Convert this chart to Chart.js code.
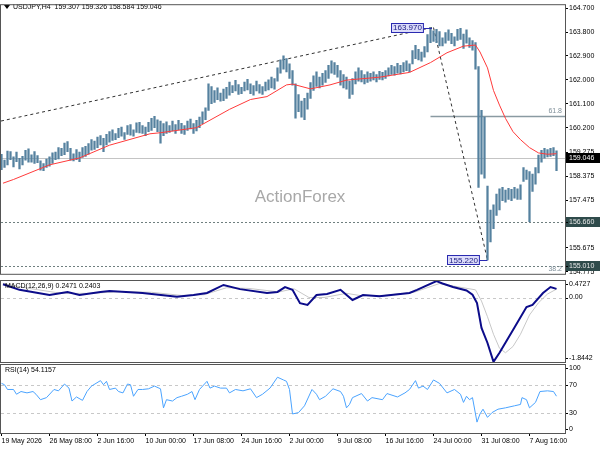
<!DOCTYPE html>
<html>
<head>
<meta charset="utf-8">
<title>USDJPY H4</title>
<script src="https://cdn.jsdelivr.net/npm/chart.js@4.4.1/dist/chart.umd.min.js"></script>
<style>
  html, body { margin: 0; padding: 0; background: #fff; }
  #wrap { position: relative; width: 600px; height: 450px; overflow: hidden; }
  canvas { position: absolute; left: 0; }
</style>
</head>
<body>
<div id="wrap">
  <canvas id="mainChart" width="600" height="279" style="top:0"></canvas>
  <canvas id="macdChart" width="600" height="85" style="top:279px"></canvas>
  <canvas id="rsiChart" width="600" height="86" style="top:364px"></canvas>
</div>
<script>
// ---- data ----
const symbolTitle = "USDJPY,H4";
const lastOHLC = ["159.307", "159.326", "158.584", "159.046"];
const macdTitle = "MACD(12,26,9) 0.2471 0.2403";
const rsiTitle = "RSI(14) 54.1157";

// one drawn bar every 2 H4 slots
const barStep = 2;
const barHigh = [
  159.20,158.98,159.32,159.30,159.10,159.28,159.05,159.12,159.35,159.40,159.18,159.30,159.15,
  158.95,158.85,159.02,159.10,
  159.25,159.28,159.45,159.42,159.62,159.68,
  159.42,159.22,159.38,159.28,159.45,159.50,
  159.60,159.75,159.70,159.85,159.90,159.80,159.95,160.05,
  160.12,159.98,160.18,160.22,160.02,160.28,160.32,160.12,160.38,160.40,160.28,160.22,160.40,
  160.55,160.63,160.50,160.45,160.35,
  160.42,160.28,160.45,160.32,160.48,160.36,160.28,160.45,160.52,160.35,160.48,
  160.60,160.80,160.95,
  161.85,161.75,
  161.60,161.70,161.50,161.65,161.72,
  161.92,161.78,161.98,161.82,161.72,161.92,162.02,161.85,161.78,161.95,161.82,161.75,161.92,
  162.00,162.10,162.05,
  162.45,162.75,162.90,162.80,
  162.60,162.35,
  161.85,
  161.45,161.20,161.30,
  161.50,161.90,162.15,162.30,162.10,162.25,
  162.35,162.55,
  162.72,162.65,162.55,
  162.35,162.20,162.10,
  161.95,162.05,
  162.30,162.45,162.35,162.20,162.30,
  162.25,162.30,162.20,162.32,162.28,162.35,
  162.45,162.55,162.50,162.62,162.55,162.65,162.72,162.60,
  163.10,163.30,163.15,163.05,163.25,
  163.70,163.97,163.85,163.90,
  163.82,163.58,163.78,163.88,163.75,163.62,163.90,163.94,163.72,163.88,163.58,163.48,
  163.40,
  162.50,
  160.85,
  160.60,
  158.00,
  157.10,157.30,157.70,157.90,
  157.95,157.85,157.92,157.88,157.95,157.90,158.05,
  158.70,158.60,158.55,158.45,158.70,
  159.17,159.35,159.42,159.38,159.42,159.45,159.326
];
const barLow = [
  158.62,158.70,158.80,159.00,158.72,158.92,158.65,158.80,158.98,158.90,158.90,158.85,158.88,
  158.60,158.58,158.70,158.75,
  158.85,159.00,159.02,159.15,159.18,159.30,
  158.98,158.95,159.00,158.92,159.08,159.12,
  159.20,159.35,159.38,159.45,159.55,159.30,159.55,159.65,
  159.72,159.75,159.82,159.88,159.76,159.95,159.92,159.88,160.02,160.00,159.98,159.90,160.05,
  160.10,160.20,160.05,159.62,159.90,
  159.98,160.02,160.08,159.98,160.12,159.98,159.95,160.10,160.15,159.98,160.08,
  160.20,160.35,160.50,
  160.85,161.10,
  161.15,161.25,161.20,161.22,161.30,
  161.42,161.52,161.58,161.45,161.48,161.58,161.62,161.48,161.42,161.58,161.50,161.45,161.58,
  161.62,161.70,161.65,
  161.95,162.25,162.40,162.30,
  162.05,161.80,
  160.56,
  160.80,160.60,160.50,
  160.90,161.30,161.60,161.75,161.70,161.80,
  161.90,162.05,
  162.25,162.20,162.10,
  161.80,161.70,161.65,
  161.30,161.45,
  161.85,161.95,161.92,161.85,161.90,
  161.95,162.00,161.92,162.02,162.00,162.05,
  162.15,162.20,162.18,162.25,162.22,162.30,162.35,162.30,
  162.60,162.80,162.75,162.70,162.85,
  163.05,163.40,163.45,163.40,
  163.28,163.28,163.38,163.48,163.36,163.28,163.48,163.52,163.18,163.38,163.22,163.12,
  162.40,
  157.95,
  158.45,
  158.30,
  155.22,
  155.90,156.40,156.90,157.10,
  157.45,157.40,157.50,157.45,157.55,157.50,157.50,
  158.18,158.25,156.66,157.80,158.07,
  158.50,158.90,159.05,159.10,159.12,159.15,158.584
];

// moving average (red)
const maIndex = [1,8,32,52,72,99,106,130,152,166,177,190,194,206,219,230,252,272,286,297,308,316,319,324,328,332,336,341,346,352,358,364,370];
const maValue = [158.11,158.25,158.80,159.06,159.54,159.97,160.01,160.20,160.89,161.26,161.37,161.81,161.84,161.66,161.81,161.99,162.10,162.28,162.65,163.02,163.27,163.31,163.05,162.45,161.60,161.05,160.55,160.05,159.75,159.45,159.25,159.20,159.22];

// trend lines
const trendUpIndex = [-0.333, 287];
const trendUpPrice = [160.45, 163.97];
const trendDownIndex = [288, 324];
const trendDownPrice = [163.97, 155.22];

// MACD
const macdIndex = [1,12,32,44,52,66,72,94,117,128,137,148,159,177,184,189,194,199,204,210,217,226,234,241,252,272,277,290,294,301,310,314,317,320,324,328,332,341,350,354,361,366,370];
const macdMain = [0.38,0.22,0.07,0.16,0.07,0.16,0.19,0.13,0.02,0.07,0.13,0.36,0.24,0.13,0.16,0.30,0.22,-0.16,-0.21,0.07,0.10,0.22,-0.07,0.07,0.04,0.13,0.22,0.47,0.40,0.30,0.20,0.08,-0.16,-0.87,-1.30,-1.84,-1.58,-0.93,-0.27,-0.21,0.13,0.30,0.247];
const signalIndex = [1,20,40,60,80,100,120,135,150,165,185,195,205,215,230,240,255,275,292,305,316,320,324,328,332,336,341,346,352,358,364,370];
const signalValue = [0.40,0.25,0.12,0.12,0.17,0.15,0.06,0.08,0.28,0.26,0.16,0.25,0.00,0.00,0.12,0.05,0.06,0.15,0.40,0.30,0.22,-0.10,-0.55,-1.05,-1.45,-1.58,-1.40,-1.05,-0.50,-0.15,0.10,0.24];

// RSI
const rsiIndex = [0,2,4,8,10,13,17,21,23,26,30,35,38,42,45,47,50,54,57,60,66,68,70,72,76,78,81,84,86,88,91,94,98,102,106,108,110,114,117,120,124,127,129,132,137,139,142,146,150,152,156,161,166,170,174,179,184,188,190,192,194,198,202,207,210,212,216,221,226,228,230,232,234,240,244,247,254,257,264,269,272,276,278,281,284,288,292,297,302,306,308,310,312,314,317,319,321,324,327,331,336,342,346,347,350,352,356,359,364,368,370];
const rsiValue = [73,71,64,64,57,61,59,61,57,49,52,64,62,72,66,47,53,48,61,69,77,71,76,64,66,61,59,72,71,54,64,64,65,69,65,37,49,47,52,54,57,61,49,64,76,66,69,66,66,59,64,62,65,52,57,66,82,78,76,64,28,30,40,64,57,49,54,65,61,54,37,42,52,58,47,52,49,58,53,59,64,77,66,69,64,78,73,59,64,57,45,54,49,52,16,28,35,23,30,35,37,40,42,52,49,37,45,61,62,61,54.1];

// ticks and levels
const priceTicks = [164.700,163.800,162.900,162.000,161.100,160.200,159.275,158.375,157.475,156.575,155.675,154.775];
const timeTickIndex = [0,32,64,96,128,160,192,224,256,288,320,352];
const timeTickLabels = ["19 May 2026","26 May 08:00","2 Jun 16:00","10 Jun 00:00","17 Jun 08:00","24 Jun 16:00","2 Jul 00:00","9 Jul 08:00","16 Jul 16:00","24 Jul 00:00","31 Jul 08:00","7 Aug 16:00"];
const macdTicks = [0.4727, 0, -1.8442];
const macdTickLabels = ["0.4727", "0.00", "-1.8442"];
const rsiTicks = [100, 70, 30, 0];
const rsiLevels = [70, 30];
const bidPrice = 159.046;
const supportLevels = [156.660, 155.010];
const fibLevel = { price: 160.63, fromIndex: 286, label: "61.8" };
const fibLow = { price: 155.010, label: "38.2" };
const highMark = { index: 287, price: 163.970, text: "163.970" };
const lowMark = { index: 324, price: 155.220, text: "155.220" };

// ---- layout ----
const xMin = -0.333, xMax = 375.667;
const priceMin = 154.70, priceMax = 164.81;
const FONT = "'Liberation Sans', Arial, sans-serif";
Chart.defaults.font.family = FONT;
Chart.defaults.font.size = 7;
Chart.defaults.animation = false;
Chart.defaults.plugins.legend.display = false;
Chart.defaults.plugins.tooltip.enabled = false;

const frame = {
  id: 'frame',
  afterDraw(chart) {
    const { ctx, chartArea: a } = chart;
    ctx.save();
    ctx.strokeStyle = '#555';
    ctx.lineWidth = 1;
    ctx.strokeRect(a.left - 0.5, a.top - 0.5, a.right - a.left + 1, a.bottom - a.top + 1);
    ctx.restore();
  }
};

function hLine(ctx, a, y, color, dash, width, x0) {
  ctx.save();
  ctx.strokeStyle = color;
  ctx.lineWidth = width || 1;
  ctx.setLineDash(dash || []);
  ctx.beginPath();
  const yy = Math.round(y) + 0.5;
  ctx.moveTo(x0 !== undefined ? x0 : a.left, yy);
  ctx.lineTo(a.right, yy);
  ctx.stroke();
  ctx.restore();
}

function axisLabel(ctx, a, y, text, bg, fg) {
  ctx.save();
  if (bg) {
    ctx.fillStyle = bg;
    ctx.fillRect(a.right + 1, Math.round(y) - 5, 34, 10);
  }
  ctx.strokeStyle = '#000';
  ctx.beginPath();
  ctx.moveTo(a.right, Math.round(y) + 0.5);
  ctx.lineTo(a.right + 3, Math.round(y) + 0.5);
  ctx.stroke();
  ctx.fillStyle = fg || '#000';
  ctx.font = '7px ' + FONT;
  ctx.textBaseline = 'middle';
  ctx.textAlign = 'left';
  ctx.fillText(text, a.right + 4, y);
  ctx.restore();
}

function markBox(ctx, x, y, text) {
  ctx.save();
  ctx.font = '8px ' + FONT;
  const w = ctx.measureText(text).width + 4;
  const bx = Math.round(x - 8 - w), by = Math.round(y) - 5;
  ctx.strokeStyle = '#2a2ab0';
  ctx.lineWidth = 1;
  ctx.beginPath();
  ctx.moveTo(bx + w, Math.round(y) + 0.5);
  ctx.lineTo(x, Math.round(y) + 0.5);
  ctx.stroke();
  ctx.fillStyle = '#dcdcfa';
  ctx.fillRect(bx, by, w, 10);
  ctx.strokeRect(bx + 0.5, by + 0.5, w - 1, 9);
  ctx.fillStyle = '#1a1a80';
  ctx.textBaseline = 'middle';
  ctx.fillText(text, bx + 2, y + 0.5);
  ctx.restore();
}

const mainOverlay = {
  id: 'mainOverlay',
  beforeDatasetsDraw(chart) {
    const { ctx, chartArea: a, scales: { x, y } } = chart;
    ctx.save();
    ctx.font = '17px ' + FONT;
    ctx.fillStyle = '#a8a8a8';
    ctx.textAlign = 'center';
    ctx.textBaseline = 'middle';
    ctx.fillText('ActionForex', (a.left + a.right) / 2 + 17, 197);
    ctx.restore();
    hLine(ctx, a, y.getPixelForValue(bidPrice), '#c4c4c4', [], 1);
    supportLevels.forEach(p => hLine(ctx, a, y.getPixelForValue(p), '#6f7f7f', [2, 2], 1));
    hLine(ctx, a, y.getPixelForValue(fibLevel.price), '#8a9aa2', [], 1.5, x.getPixelForValue(fibLevel.fromIndex));
  },
  afterDatasetsDraw(chart) {
    const { ctx, chartArea: a, scales: { x, y } } = chart;
    ctx.save();
    ctx.font = '7px ' + FONT;
    ctx.fillStyle = '#7f8f99';
    ctx.textAlign = 'right';
    ctx.textBaseline = 'middle';
    ctx.fillText(fibLevel.label, a.right - 3, y.getPixelForValue(fibLevel.price) - 5);
    ctx.fillText(fibLow.label, a.right - 3, y.getPixelForValue(fibLow.price) + 3);
    ctx.restore();

    markBox(ctx, x.getPixelForValue(highMark.index), y.getPixelForValue(highMark.price), highMark.text);
    markBox(ctx, x.getPixelForValue(lowMark.index), y.getPixelForValue(lowMark.price), lowMark.text);

    // header
    ctx.save();
    ctx.fillStyle = '#000';
    ctx.beginPath();
    ctx.moveTo(4, 5); ctx.lineTo(10, 5); ctx.lineTo(7, 9); ctx.closePath();
    ctx.fill();
    ctx.font = '7px ' + FONT;
    ctx.textBaseline = 'middle';
    ctx.fillText(symbolTitle + '  ' + lastOHLC.join(' '), 13, 7.5);
    ctx.restore();
  },
  afterDraw(chart) {
    const { ctx, chartArea: a, scales: { y } } = chart;
    axisLabel(ctx, a, y.getPixelForValue(bidPrice), bidPrice.toFixed(3), '#000', '#fff');
    supportLevels.forEach(p => axisLabel(ctx, a, y.getPixelForValue(p), p.toFixed(3), '#2f4b4b', '#e8e8e8'));
  }
};

function subOverlay(title, levels, ticks, labels) {
  return {
    id: 'subOverlay',
    beforeDatasetsDraw(chart) {
      const { ctx, chartArea: a, scales: { y } } = chart;
      levels.forEach(v => hLine(ctx, a, y.getPixelForValue(v), '#c8c8c8', [3, 3], 1));
    },
    afterDraw(chart) {
      const { ctx, chartArea: a, scales: { y } } = chart;
      ctx.save();
      ctx.font = '7px ' + FONT;
      ctx.fillStyle = '#000';
      ctx.textBaseline = 'middle';
      ctx.fillText(title, a.left + 4, a.top + 5);
      ctx.restore();
      ticks.forEach((v, i) => {
        let py = y.getPixelForValue(v);
        py = Math.min(Math.max(py, a.top + 3), a.bottom - 4);
        axisLabel(ctx, a, py, labels[i]);
      });
    }
  };
}

// ---- main price chart ----
new Chart(document.getElementById('mainChart'), {
  type: 'bar',
  data: {
    datasets: [
      {
        type: 'line',
        data: maIndex.map((v, j) => ({ x: v, y: maValue[j] })),
        borderColor: '#ff3a3a', borderWidth: 1, pointRadius: 0, order: 1
      },
      {
        type: 'bar',
        data: barHigh.map((h, k) => ({ x: k * barStep, y: [barLow[k], h] })),
        backgroundColor: '#55819f', barThickness: 1.6, borderWidth: 0, grouped: false, order: 2
      },
      {
        type: 'line',
        data: trendUpIndex.map((v, j) => ({ x: v, y: trendUpPrice[j] })),
        borderColor: '#303030', borderWidth: 1, borderDash: [3, 3], pointRadius: 0, order: 3
      },
      {
        type: 'line',
        data: trendDownIndex.map((v, j) => ({ x: v, y: trendDownPrice[j] })),
        borderColor: '#303030', borderWidth: 1, borderDash: [3, 3], pointRadius: 0, order: 3
      }
    ]
  },
  options: {
    responsive: false,
    layout: { padding: { left: 1, top: 1, bottom: 2, right: 0 } },
    scales: {
      x: { type: 'linear', min: xMin, max: xMax, offset: false, display: false },
      y: {
        position: 'right', min: priceMin, max: priceMax,
        afterFit(s) { s.width = 35; },
        afterBuildTicks(s) { s.ticks = priceTicks.map(v => ({ value: v })); },
        grid: { drawOnChartArea: false, drawTicks: true, tickLength: 3, color: '#000' },
        border: { display: false },
        ticks: { padding: 1, color: '#000', autoSkip: false, callback: v => v.toFixed(3) }
      }
    }
  },
  plugins: [mainOverlay, frame]
});

// ---- MACD ----
new Chart(document.getElementById('macdChart'), {
  type: 'line',
  data: {
    datasets: [
      {
        data: macdIndex.map((v, j) => ({ x: v, y: macdMain[j] })),
        borderColor: '#0c0c8a', borderWidth: 2, pointRadius: 0, order: 0
      },
      {
        data: signalIndex.map((v, j) => ({ x: v, y: signalValue[j] })),
        borderColor: '#c8c8c8', borderWidth: 1, pointRadius: 0, order: 1
      }
    ]
  },
  options: {
    responsive: false,
    layout: { padding: { left: 1, top: 2, bottom: 2, right: 35 } },
    scales: {
      x: { type: 'linear', min: xMin, max: xMax, offset: false, display: false },
      y: { min: -1.8442, max: 0.4727, display: false }
    }
  },
  plugins: [subOverlay(macdTitle, [0], macdTicks, macdTickLabels), frame]
});

// ---- RSI ----
new Chart(document.getElementById('rsiChart'), {
  type: 'line',
  data: {
    datasets: [{
      data: rsiIndex.map((v, j) => ({ x: v, y: rsiValue[j] })),
      borderColor: '#4aa3ff', borderWidth: 1, pointRadius: 0
    }]
  },
  options: {
    responsive: false,
    layout: { padding: { left: 1, top: 1, bottom: 0, right: 35 } },
    scales: {
      x: {
        type: 'linear', min: xMin, max: xMax, offset: false,
        afterFit(s) { s.height = 17; },
        afterBuildTicks(s) { s.ticks = timeTickIndex.map(v => ({ value: v })); },
        grid: { drawOnChartArea: false, drawTicks: true, tickLength: 3, color: '#000' },
        border: { display: false },
        ticks: { align: 'start', padding: 1, maxRotation: 0, autoSkip: false, color: '#000',
                 callback: (v, i) => timeTickLabels[i] }
      },
      y: { min: 0, max: 100, display: false }
    }
  },
  plugins: [subOverlay(rsiTitle, rsiLevels, rsiTicks, rsiTicks.map(String)), frame]
});
</script>
</body>
</html>
